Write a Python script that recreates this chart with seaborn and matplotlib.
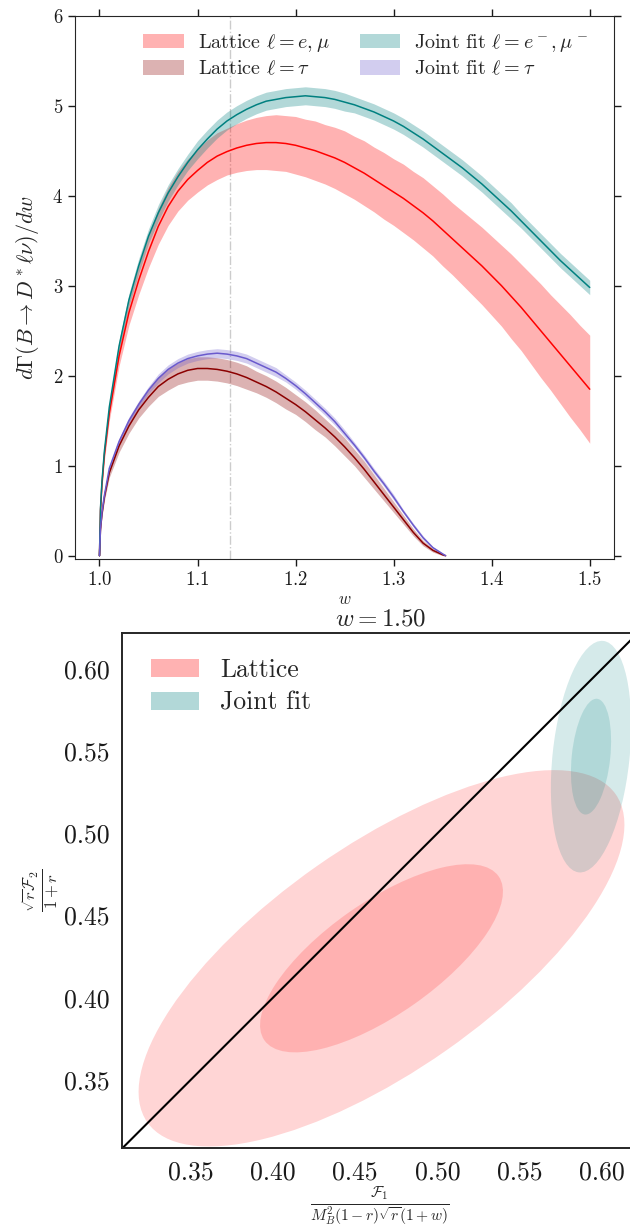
import numpy as np
import matplotlib
matplotlib.use("Agg")
import matplotlib.pyplot as plt  # noqa: E402
from matplotlib.patches import Ellipse, Patch  # noqa: E402
import seaborn as sns  # noqa: E402

# dGamma/dw for l = e, mu
w_emu = [1.0, 1.001, 1.0025, 1.005,
         1.01, 1.02, 1.03, 1.04, 1.05, 1.06, 1.07, 1.08, 1.09, 1.10,
         1.11, 1.12, 1.13, 1.14, 1.15, 1.16, 1.17, 1.18, 1.19, 1.20,
         1.21, 1.22, 1.23, 1.24, 1.25, 1.26, 1.27, 1.28, 1.29, 1.30,
         1.31, 1.32, 1.33, 1.34, 1.35, 1.36, 1.37, 1.38, 1.39, 1.40,
         1.41, 1.42, 1.43, 1.44, 1.45, 1.46, 1.47, 1.48, 1.49, 1.50]
lat_emu = [0.0, 0.50, 0.79, 1.12,
           1.58, 2.22, 2.70, 3.06, 3.38, 3.66, 3.88, 4.05, 4.18, 4.28,
           4.37, 4.44, 4.49, 4.53, 4.56, 4.58, 4.59, 4.59, 4.58, 4.56,
           4.53, 4.50, 4.46, 4.42, 4.37, 4.31, 4.25, 4.18, 4.11, 4.04,
           3.97, 3.89, 3.81, 3.72, 3.62, 3.52, 3.42, 3.32, 3.22, 3.11,
           3.00, 2.88, 2.76, 2.63, 2.50, 2.37, 2.24, 2.11, 1.98, 1.85]
lat_emu_err = [0.0, 0.03, 0.04, 0.06,
               0.08, 0.11, 0.14, 0.16, 0.18, 0.20, 0.21, 0.22, 0.23, 0.24,
               0.25, 0.26, 0.26, 0.27, 0.28, 0.29, 0.30, 0.31, 0.31, 0.32,
               0.32, 0.33, 0.33, 0.34, 0.35, 0.35, 0.36, 0.36, 0.37, 0.37,
               0.38, 0.38, 0.39, 0.39, 0.40, 0.40, 0.41, 0.42, 0.43, 0.44,
               0.45, 0.47, 0.48, 0.50, 0.52, 0.53, 0.55, 0.57, 0.58, 0.60]
jf_emu = [0.0, 0.52, 0.82, 1.16,
          1.65, 2.33, 2.84, 3.22, 3.55, 3.81, 4.03, 4.21, 4.37, 4.51,
          4.63, 4.74, 4.83, 4.90, 4.96, 5.01, 5.05, 5.07, 5.09, 5.10,
          5.11, 5.10, 5.09, 5.07, 5.04, 5.01, 4.97, 4.93, 4.88, 4.83,
          4.77, 4.70, 4.63, 4.55, 4.47, 4.39, 4.31, 4.22, 4.13, 4.03,
          3.93, 3.83, 3.72, 3.61, 3.50, 3.39, 3.28, 3.18, 3.08, 2.98]
jf_emu_err = [0.0, 0.02, 0.03, 0.04,
              0.05, 0.06, 0.07, 0.08, 0.08, 0.09, 0.09, 0.09, 0.09, 0.10,
              0.10, 0.10, 0.10, 0.10, 0.10, 0.10, 0.10, 0.10, 0.10, 0.10,
              0.10, 0.10, 0.10, 0.10, 0.10, 0.09, 0.09, 0.09, 0.09, 0.09,
              0.09, 0.09, 0.09, 0.09, 0.09, 0.09, 0.09, 0.09, 0.09, 0.09,
              0.09, 0.09, 0.08, 0.08, 0.08, 0.08, 0.08, 0.08, 0.08, 0.08]

# dGamma/dw for l = tau
w_tau = [1.0, 1.001, 1.0025, 1.005,
         1.01, 1.02, 1.03, 1.04, 1.05, 1.06, 1.07, 1.08, 1.09, 1.10,
         1.11, 1.12, 1.13, 1.14, 1.15, 1.16, 1.17, 1.18, 1.19, 1.20,
         1.21, 1.22, 1.23, 1.24, 1.25, 1.26, 1.27, 1.28, 1.29, 1.30,
         1.31, 1.32, 1.33, 1.34, 1.35, 1.353]
lat_tau = [0.0, 0.29, 0.46, 0.65,
           0.92, 1.22, 1.44, 1.62, 1.76, 1.88, 1.96, 2.02, 2.06, 2.08,
           2.08, 2.07, 2.05, 2.02, 1.98, 1.93, 1.88, 1.82, 1.75, 1.68,
           1.60, 1.51, 1.42, 1.32, 1.21, 1.09, 0.96, 0.82, 0.68, 0.54,
           0.40, 0.26, 0.14, 0.06, 0.01, 0.0]
lat_tau_err = [0.0, 0.02, 0.03, 0.04,
               0.05, 0.07, 0.08, 0.09, 0.10, 0.11, 0.12, 0.12, 0.13, 0.13,
               0.13, 0.13, 0.13, 0.13, 0.13, 0.12, 0.12, 0.12, 0.12, 0.11,
               0.11, 0.11, 0.10, 0.10, 0.10, 0.09, 0.09, 0.08, 0.07, 0.06,
               0.05, 0.04, 0.03, 0.02, 0.01, 0.0]
jf_tau = [0.0, 0.30, 0.48, 0.67,
          0.97, 1.27, 1.50, 1.68, 1.84, 1.97, 2.07, 2.14, 2.19, 2.22,
          2.24, 2.25, 2.24, 2.22, 2.19, 2.14, 2.09, 2.04, 1.97, 1.89,
          1.80, 1.70, 1.60, 1.49, 1.36, 1.23, 1.09, 0.94, 0.80, 0.65,
          0.49, 0.34, 0.20, 0.09, 0.02, 0.0]
jf_tau_err = [0.0, 0.01, 0.02, 0.02,
              0.03, 0.03, 0.04, 0.04, 0.04, 0.05, 0.05, 0.05, 0.05, 0.05,
              0.05, 0.05, 0.05, 0.05, 0.05, 0.05, 0.05, 0.05, 0.04, 0.04,
              0.04, 0.04, 0.04, 0.04, 0.04, 0.03, 0.03, 0.03, 0.03, 0.03,
              0.02, 0.02, 0.02, 0.01, 0.01, 0.0]

w_cut = 1.133

# F1 / F2 ellipses at w = 1.50: centre, (sigma_x, sigma_y), correlation
w_ellipse = 1.50
lat_center = [0.466, 0.424]
lat_sigma = [0.0738, 0.0572]
lat_rho = 0.71
jf_center = [0.5933, 0.5466]
jf_sigma = [0.0122, 0.0352]
jf_rho = 0.27
n_sigma = [2, 1]

sns.set_style("ticks")
plt.rcParams["font.family"] = ["cmr10", "DejaVu Sans"]
plt.rcParams["mathtext.fontset"] = "cm"
plt.rcParams["axes.unicode_minus"] = False
plt.rcParams["axes.formatter.use_mathtext"] = True

fig = plt.figure(figsize=(6.3, 12.26), dpi=100)
ax1 = fig.add_axes([0.119, 0.5438, 0.856, 0.4434])
ax2 = fig.add_axes([0.1941, 0.0634, 0.819, 0.4206])


def band(ax, w, v, err, color, label):
    v = np.asarray(v)
    err = np.asarray(err)
    ax.fill_between(w, v - err, v + err, color=color, alpha=0.3, lw=0, label=label)
    sns.lineplot(x=w, y=v, color=color, lw=1.1, ax=ax)


band(ax1, w_emu, lat_emu, lat_emu_err, "red", r"Lattice $\ell=e,\mu$")
band(ax1, w_tau, lat_tau, lat_tau_err, "darkred", r"Lattice $\ell=\tau$")
band(ax1, w_emu, jf_emu, jf_emu_err, "teal", r"Joint fit $\ell=e^-,\mu^-$")
band(ax1, w_tau, jf_tau, jf_tau_err, "slateblue", r"Joint fit $\ell=\tau$")
ax1.axvline(w_cut, color="0.8", ls="-.", lw=1.0, zorder=0)

ax1.set_xlim(0.975, 1.525)
ax1.set_ylim(-0.04, 6)
ax1.set_xticks([1.0, 1.1, 1.2, 1.3, 1.4, 1.5])
ax1.set_yticks([0, 1, 2, 3, 4, 5, 6])
ax1.tick_params(direction="out", top=True, right=True, length=5, width=1,
                labelsize=13.5, colors="0.1")
ax1.set_xlabel(r"$w$", fontsize=12, labelpad=2)
ax1.set_ylabel(r"$d\Gamma(B\to D^*\ell\nu)/dw$", fontsize=16, labelpad=8)
ax1.legend(loc="upper left", ncol=2, frameon=False, fontsize=14.5,
           handlelength=2.0, handletextpad=0.7, columnspacing=1.5,
           labelspacing=0.3, borderaxespad=0, bbox_to_anchor=(0.112, 0.985))


def ellipse(ax, center, sigma, rho, k, color):
    sx, sy = sigma
    cov = np.array([[sx * sx, rho * sx * sy], [rho * sx * sy, sy * sy]])
    vals, vecs = np.linalg.eigh(cov)
    angle = np.degrees(np.arctan2(vecs[1, 1], vecs[0, 1]))
    ax.add_patch(Ellipse(center, 2 * k * np.sqrt(vals[1]), 2 * k * np.sqrt(vals[0]),
                         angle=angle, fc=color, alpha=0.165, lw=0))


for k in n_sigma:
    ellipse(ax2, lat_center, lat_sigma, lat_rho, k, "red")
for k in n_sigma:
    ellipse(ax2, jf_center, jf_sigma, jf_rho, k, "teal")
ax2.axline((0.4, 0.4), slope=1, color="black", lw=1.5)

ticks2 = [0.35, 0.40, 0.45, 0.50, 0.55, 0.60]
ax2.set_xlim(0.3085, 0.622)
ax2.set_ylim(0.3085, 0.622)
ax2.set_xticks(ticks2)
ax2.set_yticks(ticks2)
ax2.set_xticklabels([f"{t:.2f}" for t in ticks2])
ax2.set_yticklabels([f"{t:.2f}" for t in ticks2])
ax2.tick_params(length=0, labelsize=18.5, pad=9, colors="0.1")
for sp in ax2.spines.values():
    sp.set_linewidth(1.4)
ax2.set_title(rf"$w={w_ellipse:.2f}$", fontsize=18, pad=5)
ax2.set_xlabel(r"$\frac{\mathcal{F}_1}{M_B^2(1-r)\sqrt{r}(1+w)}$", fontsize=16, labelpad=0)
ax2.set_ylabel(r"$\frac{\sqrt{r}\mathcal{F}_2}{1+r}$", fontsize=17, labelpad=2)
handles = [Patch(fc="red", alpha=0.3, lw=0), Patch(fc="teal", alpha=0.3, lw=0)]
ax2.legend(handles, ["Lattice", "Joint fit"], loc="upper left", frameon=False,
           fontsize=18.5, handlelength=1.9, handletextpad=0.8, labelspacing=0.35,
           borderaxespad=0, bbox_to_anchor=(0.035, 0.97))

fig.savefig("out.png", dpi=100)
